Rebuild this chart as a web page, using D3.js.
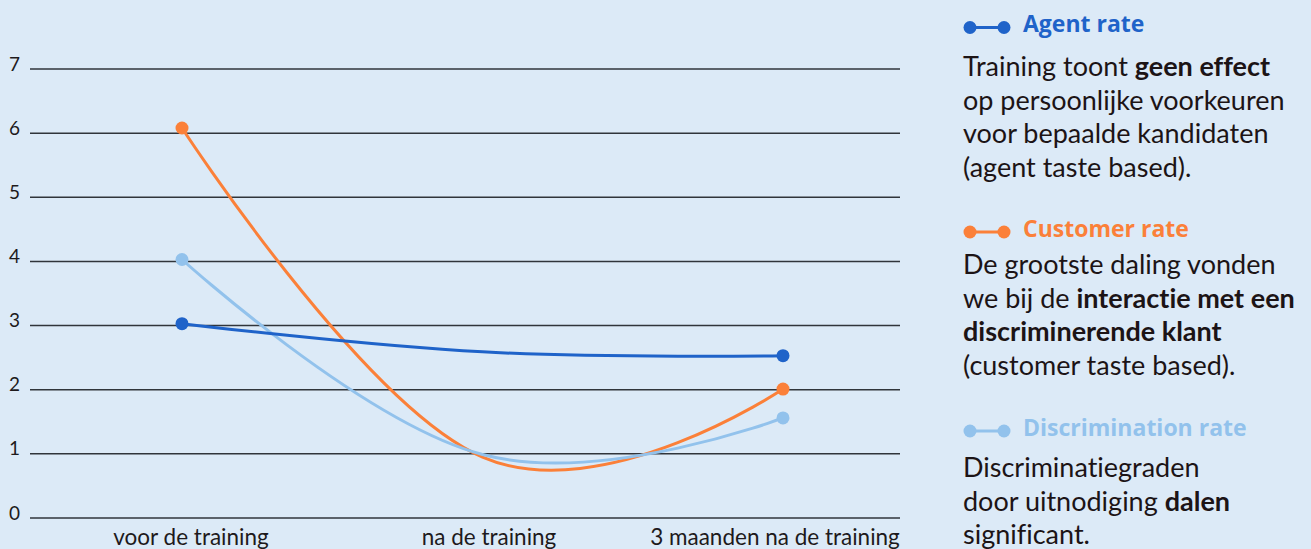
<!DOCTYPE html>
<html lang="nl">
<head>
<meta charset="UTF-8">
<title>Discriminatie na training</title>
<style>
  html, body { margin: 0; padding: 0; background: #dceaf7; }
  svg { display: block; font-family: Lato, "Noto Sans", sans-serif; }
  svg text { font-variant-ligatures: none; font-feature-settings: "liga" 0, "clig" 0; }
</style>
</head>
<body>
<svg id="chart"></svg>
<script src="https://cdnjs.cloudflare.com/ajax/libs/d3/7.8.5/d3.min.js"></script>
<script>
// data
const categories = ["voor de training", "na de training", "3 maanden na de training"];
const agentRate = [3.03, 2.59, 2.53];
const customerRate = [6.08, 0.95, 2.01];
const discriminationRate = [4.03, 0.99, 1.56];
const yTicks = [0, 1, 2, 3, 4, 5, 6, 7];

const seriesNames = ["Agent rate", "Customer rate", "Discrimination rate"];
const seriesColors = ["#1f63c9", "#fb8039", "#92c2ec"];

const width = 1311, height = 549;

const svg = d3.select('#chart')
  .attr('width', width)
  .attr('height', height);

const x = d3.scalePoint().domain(categories).range([182, 783]);
const xLabel = d3.scaleOrdinal().domain(categories).range([191, 489, 775]);
const y = d3.scaleLinear().domain([0, 7]).range([518, 69]);

// spline like the original tool draws it: first and last segment
// have no handle on the end point, middle handles are smoothed 1.5
function SmoothSpline(context) { this._context = context; }
SmoothSpline.prototype = {
  areaStart() { this._line = 0; },
  areaEnd() { this._line = NaN; },
  lineStart() { this._xs = []; this._ys = []; },
  point(px, py) { this._xs.push(+px); this._ys.push(+py); },
  lineEnd() {
    const xs = this._xs, ys = this._ys, n = xs.length, c = this._context;
    if (!n) return;
    const left = [], right = [];
    for (let i = 0; i < n; i++) {
      if (i === 0 || i === n - 1) {
        left[i] = right[i] = [xs[i], ys[i]];
        continue;
      }
      const lx = (1.5 * xs[i] + xs[i - 1]) / 2.5;
      let ly = (1.5 * ys[i] + ys[i - 1]) / 2.5;
      const rx = (1.5 * xs[i] + xs[i + 1]) / 2.5;
      let ry = (1.5 * ys[i] + ys[i + 1]) / 2.5;
      const corr = ((ry - ly) * (rx - xs[i])) / (rx - lx) + ys[i] - ry;
      ly += corr; ry += corr;
      left[i] = [lx, ly];
      right[i] = [rx, ry];
    }
    c.moveTo(xs[0], ys[0]);
    for (let i = 1; i < n; i++) {
      c.bezierCurveTo(right[i - 1][0], right[i - 1][1], left[i][0], left[i][1], xs[i], ys[i]);
    }
  }
};
const curveSmooth = ctx => new SmoothSpline(ctx);

// grid
const grid = svg.append('g');
grid.selectAll('line')
  .data(yTicks)
  .join('line')
  .attr('x1', 30).attr('x2', 900)
  .attr('y1', d => y(d)).attr('y2', d => y(d))
  .attr('stroke', '#30353b')
  .attr('stroke-width', 1.5);

grid.selectAll('text')
  .data(yTicks)
  .join('text')
  .attr('x', 9)
  .attr('y', d => y(d) + 1.5)
  .attr('font-size', 19)
  .attr('fill', '#1e1a1c')
  .text(d => d);

svg.append('g').selectAll('text')
  .data(categories)
  .join('text')
  .attr('x', d => xLabel(d))
  .attr('y', 545)
  .attr('text-anchor', 'middle')
  .attr('font-size', 22.5)
  .attr('fill', '#1e1a1c')
  .text(d => d);

// lines
const line = d3.line()
  .x((d, i) => x(categories[i]))
  .y(d => y(d))
  .curve(curveSmooth);

const allSeries = [agentRate, customerRate, discriminationRate];
const drawOrder = [1, 2, 0];

drawOrder.forEach(k => {
  const vals = allSeries[k];
  const g = svg.append('g');
  g.append('path')
    .datum(vals)
    .attr('d', line)
    .attr('fill', 'none')
    .attr('stroke', seriesColors[k])
    .attr('stroke-width', 3);
  const ends = [0, vals.length - 1];
  g.selectAll('circle')
    .data(ends)
    .join('circle')
    .attr('cx', i => x(categories[i]))
    .attr('cy', i => y(vals[i]))
    .attr('r', 6.5)
    .attr('fill', seriesColors[k]);
});

// legend with text
const legendText = [
  [[["Training toont ", false], ["geen effect", true]],
   [["op persoonlijke voorkeuren", false]],
   [["voor bepaalde kandidaten", false]],
   [["(agent taste based).", false]]],
  [[["De grootste daling vonden", false]],
   [["we bij de ", false], ["interactie met een", true]],
   [["discriminerende klant", true]],
   [["(customer taste based).", false]]],
  [[["Discriminatiegraden", false]],
   [["door uitnodiging ", false], ["dalen", true]],
   [["significant.", false]]]
];
const iconY = [27.5, 232, 431];
const bodyY = [76, 274, 477];

const legend = svg.append('g');
seriesNames.forEach((name, k) => {
  const g = legend.append('g');
  g.append('line')
    .attr('x1', 970).attr('x2', 1004).attr('y1', iconY[k]).attr('y2', iconY[k])
    .attr('stroke', seriesColors[k]).attr('stroke-width', 3);
  g.selectAll('circle')
    .data([970, 1004])
    .join('circle')
    .attr('cx', d => d).attr('cy', iconY[k]).attr('r', 6.5)
    .attr('fill', seriesColors[k]);
  g.append('text')
    .attr('x', 1023).attr('y', iconY[k] + 4.5)
    .attr('font-family', '"Open Sans", Lato, sans-serif')
    .attr('font-size', 23)
    .attr('font-weight', 700)
    .attr('fill', seriesColors[k])
    .text(name);
  const t = g.append('text')
    .attr('font-size', 27)
    .attr('fill', '#1c1416');
  legendText[k].forEach((parts, li) => {
    parts.forEach(([s, b], pi) => {
      const ts = t.append('tspan').text(s);
      if (pi === 0) ts.attr('x', 963).attr('y', bodyY[k] + li * 33.7);
      if (b) ts.attr('font-weight', 700);
    });
  });
});
</script>
</body>
</html>
